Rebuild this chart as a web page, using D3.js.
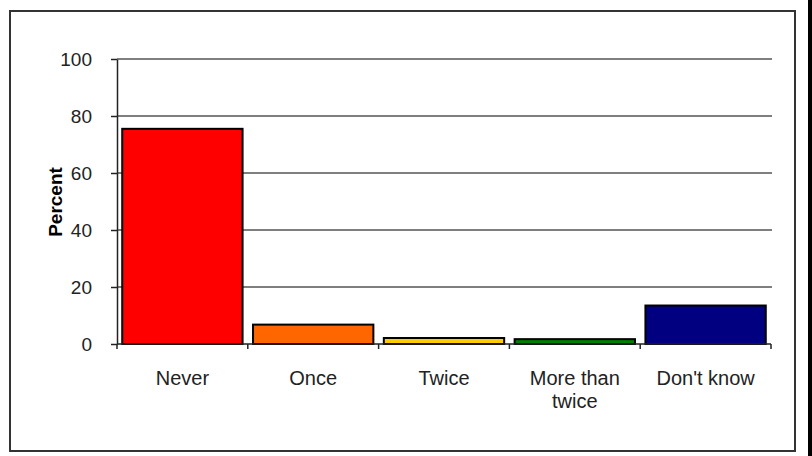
<!DOCTYPE html>
<html>
<head>
<meta charset="utf-8">
<script src="https://cdn.jsdelivr.net/npm/d3@7"></script>
<style>
html,body{margin:0;padding:0;background:#fff;}
svg{display:block;}
</style>
</head>
<body>
<svg id="chart" width="812" height="456"></svg>
<script>
const categories = [["Never"], ["Once"], ["Twice"], ["More than", "twice"], ["Don't know"]];
const values = [75.5, 6.8, 2.1, 1.7, 13.5];
const colors = ["#FF0000", "#FF6600", "#FFCC00", "#008000", "#000080"];
const yTicks = [0, 20, 40, 60, 80, 100];
const yLabel = "Percent";

(function () {
const svg = d3.select("#chart");
const font = "Liberation Sans, Arial, sans-serif";

// outer frame
svg.append("rect").attr("x", 10).attr("y", 11).attr("width", 785).attr("height", 440)
  .attr("fill", "#fff").attr("stroke", "#333").attr("stroke-width", 2);
svg.append("rect").attr("x", 808).attr("y", 0).attr("width", 4).attr("height", 456).attr("fill", "#000");

const pLeft = 117, pRight = 771, pTop = 59, pBottom = 344;
const x = d3.scaleBand().domain(d3.range(categories.length)).range([pLeft, pRight]).padding(0);
const y = d3.scaleLinear().domain([0, 100]).range([pBottom, pTop]);

// gridlines
svg.append("g").selectAll("line").data(yTicks.filter(t => t > 0)).join("line")
  .attr("x1", pLeft).attr("x2", pRight + 1)
  .attr("y1", d => y(d)).attr("y2", d => y(d))
  .attr("stroke", "#555").attr("stroke-width", 1.5);

// y axis
const yAxis = d3.axisLeft(y).tickValues(yTicks).tickSize(6).tickPadding(18).tickSizeOuter(0);
const gy = svg.append("g").attr("transform", `translate(${pLeft},0)`).call(yAxis);
gy.select(".domain").attr("stroke", "#222").attr("stroke-width", 1.5);
gy.selectAll(".tick line").attr("stroke", "#222").attr("stroke-width", 1.5);
gy.selectAll(".tick text").attr("font-family", font).attr("font-size", 19).attr("fill", "#222").attr("dx", -1);

// bars
const step = x.step();
svg.append("g").selectAll("rect").data(values).join("rect")
  .attr("x", (d, i) => x(i) + step * 0.04)
  .attr("width", step * 0.92)
  .attr("y", d => y(d))
  .attr("height", d => y(0) - y(d))
  .attr("fill", (d, i) => colors[i])
  .attr("stroke", "#000").attr("stroke-width", 2);

// x axis
svg.append("line").attr("x1", pLeft).attr("x2", pRight).attr("y1", pBottom).attr("y2", pBottom)
  .attr("stroke", "#222").attr("stroke-width", 1.5);
const boundaries = d3.range(categories.length + 1).map(i => pLeft + i * step);
svg.append("g").selectAll("line").data(boundaries).join("line")
  .attr("x1", d => d).attr("x2", d => d).attr("y1", pBottom).attr("y2", pBottom + 5)
  .attr("stroke", "#222").attr("stroke-width", 1.5);

// category labels
const lab = svg.append("g").selectAll("text").data(categories).join("text")
  .attr("x", (d, i) => x(i) + step / 2)
  .attr("y", 385)
  .attr("text-anchor", "middle")
  .attr("font-family", font).attr("font-size", 20).attr("fill", "#222");
lab.selectAll("tspan").data(d => d).join("tspan")
  .attr("x", function() { return d3.select(this.parentNode).attr("x"); })
  .attr("dy", (d, i) => i === 0 ? 0 : 23)
  .text(d => d);

// y label
svg.append("text")
  .attr("transform", "translate(62,202) rotate(-90)")
  .attr("text-anchor", "middle")
  .attr("font-family", font).attr("font-size", 19).attr("font-weight", "bold").attr("fill", "#000")
  .text(yLabel);
})();
</script>
</body>
</html>
